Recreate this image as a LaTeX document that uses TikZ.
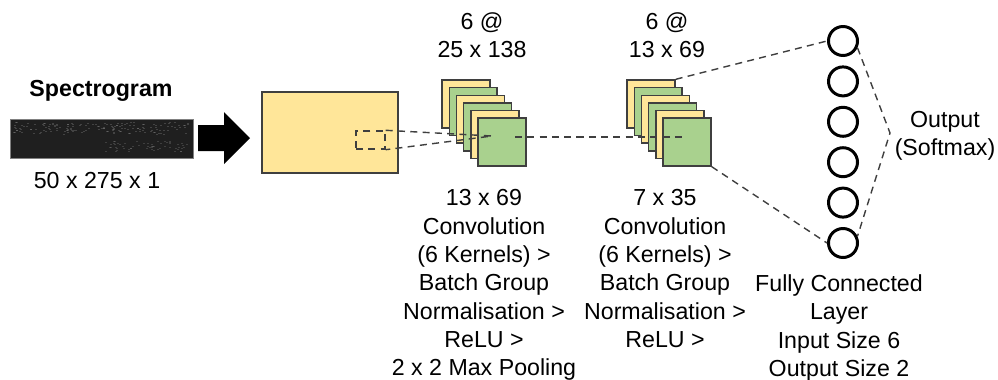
\documentclass[tikz,border=0pt]{standalone}
\usepackage{fontspec}
\setmainfont{Liberation Sans}
\usetikzlibrary{positioning}
\definecolor{mapyellow}{HTML}{FFE699}
\definecolor{mapgreen}{HTML}{A9D18E}
\definecolor{edgegray}{HTML}{3F3F3F}

\begin{document}
\begin{tikzpicture}[x=0.02cm,y=-0.02cm,
  every node/.style={font=\fontsize{13.2}{16.1}\selectfont,inner sep=0pt},
  lbl/.style={align=center,anchor=north},
  fmy/.style={minimum size=0.96cm,draw=edgegray,line width=0.8pt,fill=mapyellow},
  fmg/.style={fmy,fill=mapgreen},
  link/.style={draw=edgegray,line width=0.8pt,dash pattern=on 4pt off 3pt},
  neuron/.style={circle,draw=black,line width=1.7pt,minimum size=0.58cm,fill=white}]
		\useasboundingbox (0,0) rectangle (998,379);
		
		\node[minimum width=3.66cm,minimum height=0.78cm,draw=gray,fill=black!88] (spec) at (101.5,138.5) {};
		\pgfmathsetseed{11}
		\foreach \k in {1,...,160}{
			\pgfmathsetmacro\tx{13+176*rnd}
			\pgfmathsetmacro\ty{122+12*rnd}
			\fill[white,opacity=0.16] (\tx,\ty) rectangle ++(2,1);
		}
		\foreach \k in {1,...,60}{
			\pgfmathsetmacro\tx{105+82*rnd}
			\pgfmathsetmacro\ty{141+10*rnd}
			\fill[white,opacity=0.14] (\tx,\ty) rectangle ++(2,1);
		}
		\node[font=\fontsize{13.2}{16.1}\selectfont\bfseries,anchor=base] (title) at (101,96) {Spectrogram};
		\node[anchor=base] (insize) at (97,188) {50 x 275 x 1};
		
		\fill[black] (198,125) -- (224,125) -- (224,112) -- (250,138) -- (224,164) -- (224,151) -- (198,151) -- cycle;
		
		\node[minimum width=2.72cm,minimum height=1.62cm,draw=edgegray,line width=0.8pt,fill=mapyellow] (img) at (330,132.5) {};
		\node[minimum width=0.58cm,minimum height=0.36cm,link] (win) at (370.5,140) {};
		
		\node[fmy] (a1) at (466,104) {};
		\node[fmg,shift={(7.2,7.6)}] (a2) at (a1) {};
		\node[fmy,shift={(7.2,7.6)}] (a3) at (a2) {};
		\node[fmg,shift={(7.2,7.6)}] (a4) at (a3) {};
		\node[fmy,shift={(7.2,7.6)}] (a5) at (a4) {};
		\node[fmg,shift={(7.2,7.6)}] (a6) at (a5) {};
		
		\node[fmy] (b1) at (651,104) {};
		\node[fmg,shift={(7.2,7.6)}] (b2) at (b1) {};
		\node[fmy,shift={(7.2,7.6)}] (b3) at (b2) {};
		\node[fmg,shift={(7.2,7.6)}] (b4) at (b3) {};
		\node[fmy,shift={(7.2,7.6)}] (b5) at (b4) {};
		\node[fmg,shift={(7.2,7.6)}] (b6) at (b5) {};
		
		\coordinate (c1) at (492,136);
		\coordinate (c2) at (515,137);
		\coordinate (c3) at (687,137);
		\draw[link] (win.north east) -- (c1) -- (win.south east);
		\draw[link] (c2) -- (c3);
		
		\node[neuron] (n1) at (843,41) {};
		\node[neuron,shift={(0,40.4)}] (n2) at (n1) {};
		\node[neuron,shift={(0,40.4)}] (n3) at (n2) {};
		\node[neuron,shift={(0,40.4)}] (n4) at (n3) {};
		\node[neuron,shift={(0,40.4)}] (n5) at (n4) {};
		\node[neuron,shift={(0,40.4)}] (n6) at (n5) {};
		
		\draw[link] (b1.north east) -- (n1.west);
		\draw[link] (b6.south east) -- (n6.west);
		\coordinate (outv) at (890,133);
		\draw[link] (n1.-25) -- (outv) -- (n6.25);
		
		\node[lbl] (top1) at (482,12) {6 @\\25 x 138};
		\node[lbl] (top2) at (667,12) {6 @\\13 x 69};
		\node[lbl] (cap1) at (484,189.4) {13 x 69\\Convolution\\(6 Kernels) >\\Batch Group\\Normalisation >\\ReLU >\\2 x 2 Max Pooling};
		\node[lbl] (cap2) at (665,189.4) {7 x 35\\Convolution\\(6 Kernels) >\\Batch Group\\Normalisation >\\ReLU >};
		\node[lbl] (fc) at (839,274.4) {Fully Connected\\Layer\\Input Size 6\\Output Size 2};
		\node[lbl] (out) at (945,111) {Output\\(Softmax)};
	\end{tikzpicture}
\end{document}
